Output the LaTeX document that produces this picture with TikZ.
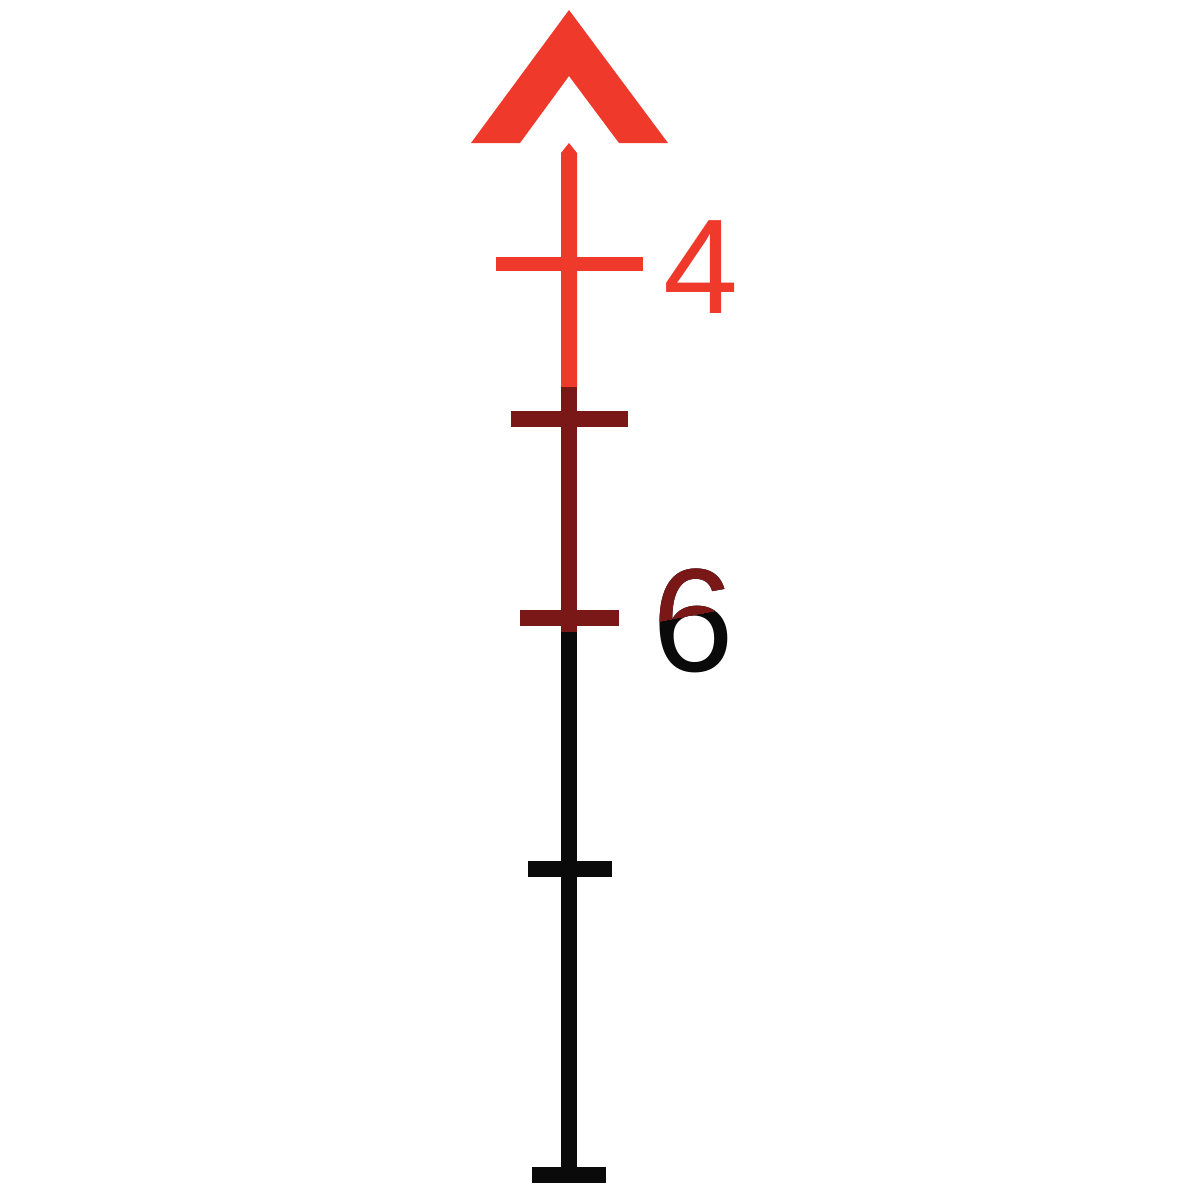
\documentclass[tikz,border=0pt]{standalone}
\usepackage{fontspec}
\setmainfont{Liberation Sans}
\definecolor{retred}{HTML}{EE392B}
\definecolor{retdark}{HTML}{7A1818}
\definecolor{retblack}{HTML}{0A0A0A}
\begin{document}
\begin{tikzpicture}[x=0.5pt,y=-0.5pt,
  numlabel/.style={inner sep=0pt,outer sep=0pt,anchor=base}]
\useasboundingbox (0,0) rectangle (1200,1200);
% chevron
\fill[retred] (569,10) -- (668,143) -- (619,143) -- (569,76) -- (520,143) -- (471,143) -- cycle;
% vertical post
\fill[retred] (561,153) -- (569,143) -- (577,153) -- (577,387) -- (561,387) -- cycle;
\fill[retdark] (561,387) rectangle (577,632);
\fill[retblack] (561,632) rectangle (577,1170);
% ticks
\fill[retred] (496,257) rectangle (643,271);
\fill[retdark] (511,411) rectangle (628,427);
\fill[retdark] (520,610) rectangle (619,626);
\fill[retblack] (528,861) rectangle (612,877);
\fill[retblack] (532,1167) rectangle (606,1183);
% labels
\node[numlabel,text=retred,font=\fontsize{67.5}{80}\selectfont] (four) at (701.5,313) {4};
\node[numlabel,text=retblack,font=\fontsize{73.5}{84}\selectfont] (six) at (693.5,671) {6};
\begin{scope}
\clip (640,540) -- (740,540) -- (740,606) -- (640,625) -- cycle;
\node[numlabel,text=retdark,font=\fontsize{73.5}{84}\selectfont] (sixtop) at (693.5,671) {6};
\end{scope}
\end{tikzpicture}
\end{document}
